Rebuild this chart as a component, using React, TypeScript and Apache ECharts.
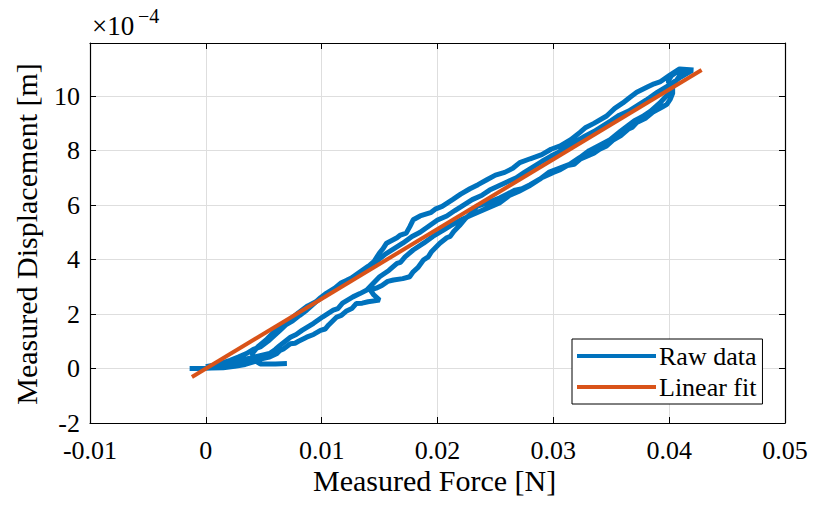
import React, { useEffect, useRef } from "react";
import * as echarts from "echarts";

// Tick labels
const xTickLabels = ["-0.01", "0", "0.01", "0.02", "0.03", "0.04", "0.05"];
const yTickLabels = ["-2", "0", "2", "4", "6", "8", "10"];

// Raw data: [force (N), displacement (x1e-4 m)]
const rawLoad1: number[][] = [
  [-0.0014, 0.0], [-0.0005, 0.0], [0.0005, 0.02], [0.0015, 0.03], [0.0025, 0.08], [0.0034, 0.15],
  [0.0042, 0.25], [0.0049, 0.37], [0.0055, 0.42], [0.0061, 0.54], [0.0064, 0.66], [0.0067, 0.72],
  [0.0073, 0.91], [0.0077, 0.93], [0.008, 1.0], [0.0087, 1.15], [0.0093, 1.25], [0.0099, 1.4],
  [0.0103, 1.45], [0.0106, 1.6], [0.0113, 1.89], [0.0117, 1.95], [0.0121, 2.1], [0.0126, 2.2],
  [0.013, 2.39], [0.0135, 2.4], [0.014, 2.45], [0.015, 2.51], [0.0145, 2.7], [0.0142, 2.88],
  [0.0147, 2.95], [0.0152, 3.05], [0.0157, 3.2], [0.0162, 3.25], [0.017, 3.3], [0.0176, 3.37],
  [0.0179, 3.55], [0.0183, 3.7], [0.0188, 3.99], [0.0192, 4.1], [0.0195, 4.3], [0.0202, 4.6],
  [0.0208, 4.8], [0.0211, 4.85], [0.0214, 5.03], [0.0219, 5.25], [0.0224, 5.5], [0.0229, 5.7],
  [0.0234, 5.95], [0.0244, 6.1], [0.0254, 6.27], [0.026, 6.4], [0.0267, 6.55], [0.0273, 6.6],
  [0.028, 6.75], [0.029, 7.0], [0.03, 7.2], [0.0306, 7.3], [0.0312, 7.45], [0.0318, 7.5],
  [0.0323, 7.68], [0.0335, 7.9], [0.034, 8.05], [0.0346, 8.17], [0.0352, 8.4], [0.0358, 8.54],
  [0.0365, 8.8], [0.0368, 8.85], [0.0372, 9.03], [0.038, 9.2], [0.0386, 9.41], [0.0394, 9.6],
  [0.0398, 9.7], [0.0401, 9.89], [0.0403, 10.1], [0.0403, 10.33], [0.0399, 10.55], [0.0402, 10.75],
  [0.0409, 10.96], [0.0421, 10.96],
];
const rawUnload1: number[][] = [
  [0.0409, 11.0], [0.04, 10.75], [0.0392, 10.52], [0.0387, 10.45], [0.0382, 10.35], [0.0372, 10.14],
  [0.0366, 9.95], [0.036, 9.75], [0.0353, 9.55], [0.0346, 9.27], [0.0335, 9.0], [0.0328, 8.85],
  [0.0323, 8.67], [0.0315, 8.4], [0.0306, 8.17], [0.0298, 8.05], [0.029, 7.85], [0.028, 7.7],
  [0.0271, 7.56], [0.0265, 7.35], [0.0258, 7.2], [0.025, 7.1], [0.0243, 6.94], [0.0235, 6.75],
  [0.0228, 6.6], [0.022, 6.4], [0.0213, 6.2], [0.0204, 5.95], [0.0198, 5.85], [0.0194, 5.72],
  [0.0185, 5.6], [0.0179, 5.46], [0.0176, 5.2], [0.0173, 4.97], [0.0168, 4.9], [0.0165, 4.8],
  [0.0156, 4.6], [0.0153, 4.4], [0.015, 4.25], [0.0145, 3.92], [0.0139, 3.7], [0.0133, 3.49],
  [0.0127, 3.35], [0.0122, 3.25], [0.0117, 3.1], [0.0113, 3.0], [0.0104, 2.76], [0.0099, 2.6],
  [0.0095, 2.45], [0.0087, 2.14], [0.0081, 1.95], [0.0075, 1.75], [0.0069, 1.6], [0.0064, 1.4],
  [0.0055, 1.05], [0.0047, 0.79], [0.0041, 0.7], [0.0035, 0.55], [0.0028, 0.42], [0.0021, 0.3],
  [0.001, 0.15], [0.0, 0.07],
];
const rawLoad2: number[][] = [
  [0.0005, 0.1], [0.002, 0.2], [0.0035, 0.35], [0.0045, 0.45], [0.0055, 0.55], [0.006, 0.7],
  [0.0064, 0.85], [0.0073, 1.15], [0.0078, 1.25], [0.0083, 1.4], [0.0093, 1.66], [0.0101, 1.9],
  [0.011, 2.14], [0.0114, 2.2], [0.0118, 2.4], [0.0127, 2.63], [0.0133, 2.75], [0.0139, 2.88],
  [0.0145, 3.15], [0.015, 3.37], [0.0158, 3.6], [0.0165, 3.86], [0.0168, 3.9], [0.0172, 4.1],
  [0.0179, 4.35], [0.0188, 4.6], [0.0196, 4.85], [0.0204, 5.05], [0.0211, 5.24], [0.022, 5.45],
  [0.0228, 5.61], [0.0241, 5.85], [0.0254, 6.09], [0.0262, 6.35], [0.027, 6.5], [0.0279, 6.7],
  [0.0288, 6.94], [0.0296, 7.2], [0.0305, 7.35], [0.0314, 7.5], [0.0323, 7.75], [0.0331, 8.0],
  [0.034, 8.2], [0.0349, 8.4], [0.0358, 8.71], [0.037, 9.1], [0.0377, 9.25], [0.0384, 9.45],
  [0.0392, 9.75], [0.0399, 10.07], [0.0405, 10.5], [0.0412, 10.92],
];
const rawUnload2: number[][] = [
  [0.042, 10.95], [0.041, 10.7], [0.04, 10.4], [0.039, 10.15], [0.038, 9.85], [0.0365, 9.45],
  [0.0357, 9.3], [0.035, 9.1], [0.0335, 8.7], [0.0328, 8.55], [0.032, 8.35], [0.0305, 7.95],
  [0.0298, 7.8], [0.029, 7.6], [0.0275, 7.2], [0.0268, 7.0], [0.026, 6.85], [0.0245, 6.55],
  [0.0238, 6.35], [0.023, 6.2], [0.0215, 5.8], [0.0208, 5.6], [0.02, 5.45], [0.0185, 5.0],
  [0.0178, 4.85], [0.017, 4.6], [0.0155, 4.2], [0.0148, 3.95], [0.014, 3.75], [0.0125, 3.3],
  [0.0117, 3.15], [0.011, 2.9], [0.0095, 2.45], [0.0088, 2.3], [0.008, 2.05], [0.007, 1.7],
  [0.006, 1.4], [0.0052, 1.05], [0.0045, 0.8], [0.004, 0.55], [0.0042, 0.3], [0.0047, 0.17],
  [0.006, 0.17], [0.007, 0.18],
];

// Linear fit endpoints
const fitData: number[][] = [
  [-0.0012, -0.31],
  [0.0428, 10.96],
];

const FONT = "Liberation Serif";
const BLUE = "#0072BD";
const ORANGE = "#D95319";

export default function App() {
  const ref = useRef<HTMLDivElement>(null);
  useEffect(() => {
    if (!ref.current) return;
    const chart = echarts.init(ref.current, undefined, { renderer: "svg" });
    const raw = [...rawLoad1, ...rawUnload1, ...rawLoad2, ...rawUnload2];
    const xFmt = (v: number) => {
      const i = Math.round((v + 0.01) / 0.01);
      return xTickLabels[i] ?? "";
    };
    const yFmt = (v: number) => {
      const i = Math.round((v + 2) / 2);
      return yTickLabels[i] ?? "";
    };
    const gridColor = "#dedede";
    const tick = { show: true, inside: true, length: 6, lineStyle: { color: "#000", width: 1 } };
    const line = { show: true, onZero: false, lineStyle: { color: "#000", width: 1.2 } };
    chart.setOption({
      animation: false,
      backgroundColor: "#fff",
      grid: { left: 90, top: 43, right: 28, bottom: 84, containLabel: false },
      xAxis: [
        {
          type: "value", min: -0.01, max: 0.05, interval: 0.01, position: "bottom",
          axisLine: line, axisTick: tick,
          splitLine: { show: true, lineStyle: { color: gridColor, width: 1 } },
          axisLabel: { formatter: xFmt, fontFamily: FONT, fontSize: 26, color: "#000", margin: 14 },
        },
        {
          type: "value", min: -0.01, max: 0.05, interval: 0.01, position: "top",
          axisLine: line, axisTick: tick, splitLine: { show: false }, axisLabel: { show: false },
        },
      ],
      yAxis: [
        {
          type: "value", min: -2, max: 11.95, interval: 2, position: "left",
          axisLine: line, axisTick: tick,
          splitLine: { show: true, lineStyle: { color: gridColor, width: 1 } },
          axisLabel: { formatter: yFmt, fontFamily: FONT, fontSize: 26, color: "#000", margin: 10 },
        },
        {
          type: "value", min: -2, max: 11.95, interval: 2, position: "right",
          axisLine: line, axisTick: tick, splitLine: { show: false }, axisLabel: { show: false },
        },
      ],
      legend: {
        orient: "vertical",
        left: 572,
        top: 339,
        backgroundColor: "#fff",
        borderColor: "#000",
        borderWidth: 1,
        borderRadius: 0,
        padding: [4, 6, 4, 5],
        itemGap: 5,
        itemWidth: 79,
        itemHeight: 4,
        icon: "rect",
        textStyle: { fontFamily: FONT, fontSize: 26, color: "#000", padding: [0, 0, 0, -2] },
        data: ["Raw data", "Linear fit"],
      },
      graphic: [
        {
          type: "text", left: 313, top: 465,
          style: { text: "Measured Force [N]", fontFamily: FONT, fontSize: 30, fill: "#000" },
        },
        {
          type: "text", x: 26, y: 234, rotation: Math.PI / 2,
          style: {
            text: "Measured Displacement [m]", fontFamily: FONT, fontSize: 30, fill: "#000",
            align: "center", verticalAlign: "middle",
          },
        },
        {
          type: "text", left: 92, top: 12,
          style: { text: "×10", fontFamily: FONT, fontSize: 27, fill: "#000" },
        },
        {
          type: "text", left: 138, top: 6,
          style: { text: "−4", fontFamily: FONT, fontSize: 20, fill: "#000" },
        },
      ],
      series: [
        {
          name: "Raw data", type: "line", data: raw, showSymbol: false, symbol: "none",
          lineStyle: { color: BLUE, width: 5 }, itemStyle: { color: BLUE },
          z: 2,
        },
        {
          name: "Linear fit", type: "line", data: fitData, showSymbol: false, symbol: "none",
          lineStyle: { color: ORANGE, width: 4 }, itemStyle: { color: ORANGE },
          z: 3,
        },
      ],
    });
    return () => chart.dispose();
  }, []);
  return (
    <div
      ref={ref}
      style={{ position: "absolute", left: 0, top: 0, width: 813, height: 507 }}
    />
  );
}
